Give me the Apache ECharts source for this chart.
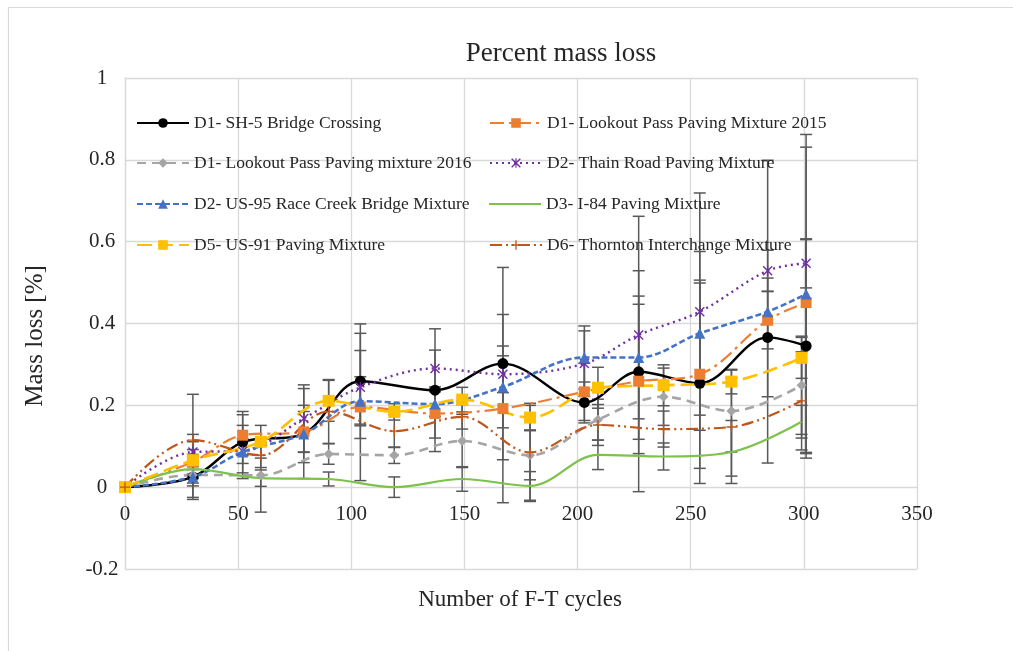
<!DOCTYPE html>
<html>
<head>
<meta charset="utf-8">
<script src="https://cdn.jsdelivr.net/npm/echarts@6/dist/echarts.min.js"></script>
<style>
  html, body { margin: 0; padding: 0; background: #fff; }
  #chart { width: 1013px; height: 651px; }
</style>
</head>
<body>
<div id="chart"></div>
<script>
// Freeze-thaw cycle counts (two sampling schedules)
const cyclesA = [0, 30, 52, 79, 104, 137, 167, 203, 227, 254, 284, 301];
const cyclesB = [0, 30, 60, 90, 119, 149, 179, 209, 238, 268, 299];

// Mean mass loss [%] and error half-widths per mixture
const sh5 = [0, 0.025, 0.11, 0.131, 0.259, 0.237, 0.302, 0.207, 0.282, 0.254, 0.366, 0.345];
const sh5Err = [0, 0.05, 0.075, 0.11, 0.14, 0.15, 0.235, 0.05, 0.165, 0.245, 0.145, 0.26];

const lookout2015 = [0, 0.062, 0.127, 0.135, 0.196, 0.18, 0.192, 0.233, 0.259, 0.276, 0.408, 0.451];
const lookout2015Err = [0, 0.03, 0.05, 0.05, 0.18, 0.06, 0.23, 0.07, 0.27, 0.23, 0.07, 0.38];

const lookout2016 = [0, 0.03, 0.029, 0.081, 0.078, 0.113, 0.078, 0.165, 0.221, 0.186, 0.249];
const lookout2016Err = [0, 0.02, 0.09, 0.025, 0.02, 0.065, 0.06, 0.05, 0.07, 0.1, 0.12];

const thain = [0, 0.086, 0.088, 0.168, 0.244, 0.29, 0.276, 0.302, 0.372, 0.429, 0.529, 0.547];
const thainErr = [0, 0.043, 0.03, 0.082, 0.09, 0.045, 0.045, 0.08, 0.29, 0.29, 0.05, 0.06];

const us95 = [0, 0.025, 0.086, 0.13, 0.21, 0.203, 0.245, 0.317, 0.317, 0.376, 0.429, 0.472];
const us95Err = [0, 0.055, 0.065, 0.07, 0.06, 0.03, 0.1, 0.077, 0.15, 0.2, 0.37, 0.39];

const i84 = [0, 0.044, 0.022, 0.02, 0.0, 0.02, 0.003, 0.079, 0.075, 0.086, 0.16];
const i84Err = [0, 0.02, 0.02, 0.017, 0.025, 0.03, 0.035, 0.036, 0.033, 0.077, 0.04];

const us91 = [0, 0.066, 0.111, 0.211, 0.184, 0.214, 0.17, 0.243, 0.249, 0.258, 0.316];
const us91Err = [0, 0.045, 0.04, 0.05, 0.02, 0.03, 0.03, 0.05, 0.05, 0.03, 0.05];

const thornton = [0, 0.115, 0.078, 0.185, 0.137, 0.172, 0.085, 0.152, 0.142, 0.147, 0.211];
const thorntonErr = [0, 0.112, 0.03, 0.078, 0.04, 0.03, 0.12, 0.05, 0.044, 0.12, 0.12];

const names = [
  'D1- SH-5 Bridge Crossing',
  'D1- Lookout Pass Paving Mixture 2015',
  'D1- Lookout Pass Paving mixture 2016',
  'D2- Thain Road Paving Mixture',
  'D2- US-95 Race Creek Bridge Mixture',
  'D3- I-84 Paving Mixture',
  'D5- US-91 Paving Mixture',
  'D6- Thornton Interchange Mixture'
];

const FONT = "'Liberation Serif', 'Times New Roman', serif";
const TXT = '#262626';

// Marker outlines drawn as filled strokes
const asteriskPath = 'path://M0,1L1,0L10,9L9,10Z M9,0L10,1L1,10L0,9Z M4.4,0L5.6,0L5.6,10L4.4,10Z';
const plusPath = 'path://M0,4.3L10,4.3L10,5.7L0,5.7Z M4.3,0L5.7,0L5.7,10L4.3,10Z';

const defs = [
  { x: cyclesA, y: sh5, e: sh5Err, color: '#000000', type: 'solid', width: 2.4, symbol: 'circle', size: 11 },
  { x: cyclesA, y: lookout2015, e: lookout2015Err, color: '#ED7D31', type: [14, 5, 3, 5], width: 2.2, symbol: 'rect', size: 11 },
  { x: cyclesB, y: lookout2016, e: lookout2016Err, color: '#A5A5A5', type: [9, 6], width: 2.6, symbol: 'diamond', size: 10 },
  { x: cyclesA, y: thain, e: thainErr, color: '#7030A0', type: [2, 4], width: 2.4, symbol: asteriskPath, size: 10 },
  { x: cyclesA, y: us95, e: us95Err, color: '#4472C4', type: [6, 3], width: 2.6, symbol: 'triangle', size: 11 },
  { x: cyclesB, y: i84, e: i84Err, color: '#7CC24B', type: 'solid', width: 2.2, symbol: 'none', size: 0 },
  { x: cyclesB, y: us91, e: us91Err, color: '#FFC000', type: [15, 6], width: 2.6, symbol: 'rect', size: 12 },
  { x: cyclesB, y: thornton, e: thorntonErr, color: '#C0561A', type: [12, 4, 2, 4, 2, 4], width: 2.2, symbol: plusPath, size: 10 }
];

// Error bar segments: [cycle, low, high]
const errorData = [];
defs.forEach(d => {
  d.x.forEach((c, i) => {
    if (d.e[i] > 0) errorData.push([c, d.y[i] - d.e[i], d.y[i] + d.e[i]]);
  });
});

const lineSeries = defs.map((d, i) => ({
  name: names[i],
  type: 'line',
  smooth: 0.35,
  data: d.x.map((c, k) => [c, d.y[k]]),
  symbol: d.symbol,
  symbolSize: d.size,
  showSymbol: d.symbol !== 'none',
  color: d.color,
  lineStyle: { color: d.color, width: d.width, type: d.type },
  itemStyle: { color: d.color },
  z: 3,
  animation: false
}));

const errorSeries = {
  type: 'custom',
  name: 'errors',
  data: errorData,
  z: 2,
  silent: true,
  animation: false,
  renderItem: function (params, api) {
    const x = api.value(0);
    const top = api.coord([x, api.value(2)]);
    const bot = api.coord([x, api.value(1)]);
    const hw = 6;
    const st = { stroke: '#595959', lineWidth: 1.5 };
    return {
      type: 'group',
      children: [
        { type: 'line', shape: { x1: top[0], y1: top[1], x2: bot[0], y2: bot[1] }, style: st },
        { type: 'line', shape: { x1: top[0] - hw, y1: top[1], x2: top[0] + hw, y2: top[1] }, style: st },
        { type: 'line', shape: { x1: bot[0] - hw, y1: bot[1], x2: bot[0] + hw, y2: bot[1] }, style: st }
      ]
    };
  }
};

// Two-column legend, one component per entry
const legendRows = [123, 163, 204, 245];
const legends = names.map((n, i) => {
  const lg = {
    data: [n],
    left: i % 2 === 0 ? 136 : 489,
    top: legendRows[Math.floor(i / 2)] - 10,
    padding: 0,
    itemWidth: 52,
    itemHeight: 12,
    itemGap: 0,
    selectedMode: false,
    textStyle: { fontFamily: FONT, fontSize: 17.5, color: TXT, lineHeight: 20 }
  };
  if (defs[i].symbol === 'none') {
    // plain line key for the marker-less series
    lg.icon = 'rect';
    lg.itemHeight = 2.2;
  }
  return lg;
});

const chart = echarts.init(document.getElementById('chart'), null, { renderer: 'canvas' });
chart.setOption({
  backgroundColor: '#ffffff',
  animation: false,
  title: {
    text: 'Percent mass loss',
    left: 556,
    top: 35,
    textAlign: 'center',
    textStyle: { fontFamily: FONT, fontSize: 27, fontWeight: 'normal', color: TXT }
  },
  legend: legends,
  grid: { left: 125, top: 78, right: 96, bottom: 82, containLabel: false },
  xAxis: {
    type: 'value',
    min: 0, max: 350, interval: 50,
    axisLine: { show: false },
    axisTick: { show: false },
    // labels sit just under the zero line
    axisLabel: { fontFamily: FONT, fontSize: 21, color: TXT, margin: -65 },
    splitLine: { show: true, lineStyle: { color: '#d9d9d9', width: 1.3 } }
  },
  yAxis: {
    type: 'value',
    min: -0.2, max: 1, interval: 0.2,
    axisLine: { show: true, lineStyle: { color: '#d9d9d9', width: 1.3 } },
    axisTick: { show: false },
    axisLabel: { fontFamily: FONT, fontSize: 21, color: TXT, margin: 23, align: 'center' },
    splitLine: { show: true, lineStyle: { color: '#d9d9d9', width: 1.3 } }
  },
  graphic: [
    { type: 'rect', shape: { x: 8.5, y: 7.5, width: 1010, height: 660 }, style: { fill: 'none', stroke: '#d9d9d9', lineWidth: 1.2 }, silent: true },
    { type: 'text', x: 520, y: 600, style: { text: 'Number of F-T cycles', fontFamily: FONT, fontSize: 23, fill: TXT, align: 'center', verticalAlign: 'middle' } },
    { type: 'text', x: 35, y: 336, rotation: Math.PI / 2, style: { text: 'Mass loss [%]', fontFamily: FONT, fontSize: 25, fill: TXT, align: 'center', verticalAlign: 'middle' } }
  ],
  series: [errorSeries].concat(lineSeries)
});
</script>
</body>
</html>
